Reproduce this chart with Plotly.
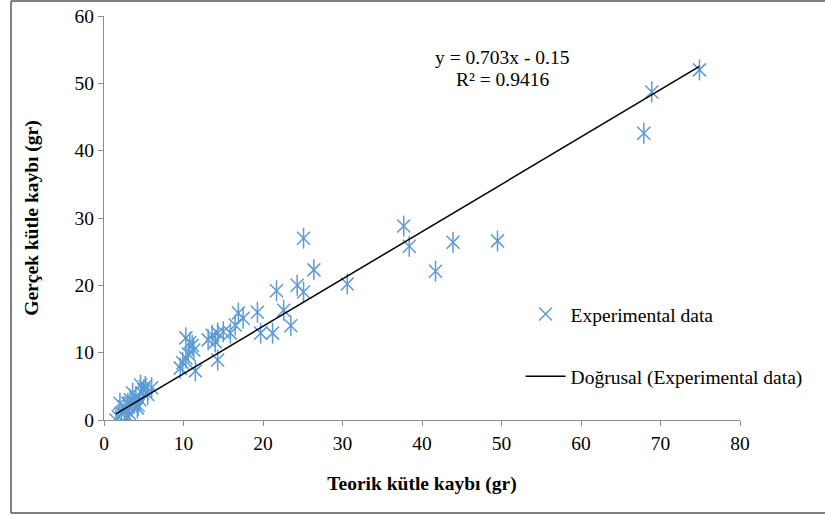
import plotly.graph_objects as go

# Data
theoretical = [1.5, 1.8, 2.2, 2.5, 2.8, 3.0, 3.2, 3.5, 3.3, 3.8, 4.0, 3.6, 4.2, 4.5, 4.8,
               5.0, 5.2, 5.5, 6.0, 4.3, 2.0, 3.0, 4.6,
               9.6, 9.9, 10.3, 10.6, 10.3, 11.1, 10.8, 11.3, 11.5, 13.1, 13.6, 14.0, 14.3,
               14.3, 15.0, 15.9, 16.5, 16.9, 17.5, 19.3, 19.7, 21.2, 21.7, 22.6, 23.5,
               24.3, 25.1, 25.1, 26.4, 30.6, 37.7, 38.4, 41.7, 43.9, 49.5, 67.9, 68.9, 74.9]
actual = [0.0, 0.5, 1.0, 2.0, 1.5, 2.5, 1.0, 2.0, 3.0, 2.5, 3.5, 4.0, 1.8, 3.0, 4.0,
          4.5, 5.0, 3.8, 4.8, 2.2, 2.5, 0.5, 5.2,
          7.7, 8.5, 9.2, 9.8, 12.2, 11.1, 11.5, 10.4, 7.3, 11.9, 12.6, 11.6, 8.9,
          12.9, 13.1, 12.9, 14.1, 15.9, 15.1, 16.0, 12.9, 12.9, 19.2, 16.3, 14.0,
          20.0, 19.0, 27.0, 22.3, 20.2, 28.8, 25.8, 22.1, 26.4, 26.6, 42.6, 48.7, 52.0]

trend_slope = 0.703
trend_intercept = -0.15
equation_text = "y = 0.703x - 0.15"
r2_text = "R² = 0.9416"

x_ticks = [0, 10, 20, 30, 40, 50, 60, 70, 80]
y_ticks = [0, 10, 20, 30, 40, 50, 60]

blue = "#5B9BD5"
serif = "Liberation Serif"
fs = 19.5

fig = go.Figure()

fig.add_trace(go.Scatter(
    x=theoretical, y=actual, mode="markers", name="Experimental data",
    marker=dict(symbol="x-thin-open", size=13, color=blue, line=dict(width=1.5, color=blue)),
    legendgroup="a", showlegend=True,
))
fig.add_trace(go.Scatter(
    x=theoretical, y=actual, mode="markers", name="Experimental data",
    marker=dict(symbol="line-ns-open", size=15, color=blue, line=dict(width=1.5, color=blue)),
    legendgroup="a", showlegend=False,
))

x_min, x_max = min(theoretical), max(theoretical)
fig.add_trace(go.Scatter(
    x=[x_min, x_max],
    y=[trend_slope * x_min + trend_intercept, trend_slope * x_max + trend_intercept],
    mode="lines", name="Doğrusal (Experimental data)",
    line=dict(color="black", width=1.5), legendgroup="b",
))

axis_common = dict(
    showgrid=False, zeroline=False, showline=True, linecolor="#8C8C8C", linewidth=1.2,
    ticks="outside", ticklen=5, tickcolor="#8C8C8C", automargin=False,
    tickfont=dict(family=serif, size=fs, color="black"),
)

fig.update_xaxes(range=[0, 80], tickvals=x_ticks, **axis_common,
                 title=dict(text="<b>Teorik kütle kaybı (gr)</b>",
                            font=dict(family=serif, size=fs, color="black"), standoff=23))
fig.update_yaxes(range=[0, 60], tickvals=y_ticks, **axis_common,
                 title=dict(text="<b>Gerçek kütle kaybı (gr)</b>",
                            font=dict(family=serif, size=fs, color="black"), standoff=30))

fig.add_annotation(x=0.626, y=0.898, xref="paper", yref="paper", text=equation_text,
                   xanchor="center", yanchor="middle",
                   showarrow=False, font=dict(family=serif, size=fs, color="black"))
fig.add_annotation(x=0.626, y=0.842, xref="paper", yref="paper", text=r2_text,
                   xanchor="center", yanchor="middle",
                   showarrow=False, font=dict(family=serif, size=fs, color="black"))

frame = dict(color="#555555", width=1.5)
fig.add_shape(type="line", xref="paper", yref="paper", x0=-0.1462, x1=-0.1462,
              y0=-0.2302, y1=1.037, line=frame, layer="below")
fig.add_shape(type="line", xref="paper", yref="paper", x0=-0.1462, x1=1.2,
              y0=1.037, y1=1.037, line=frame, layer="below")
fig.add_shape(type="line", xref="paper", yref="paper", x0=-0.1462, x1=1.2,
              y0=-0.2302, y1=-0.2302, line=frame, layer="below")

fig.update_layout(
    width=825, height=515,
    margin=dict(l=104, r=85, t=16, b=95, autoexpand=False),
    paper_bgcolor="white", plot_bgcolor="white",
    legend=dict(x=0.655, y=0.31, xanchor="left", yanchor="top",
                font=dict(family=serif, size=fs, color="black"),
                traceorder="grouped", tracegroupgap=34, bgcolor="rgba(0,0,0,0)",
                itemwidth=40),
    showlegend=True,
)

fig.write_html("out.html", config={"displayModeBar": False},
               post_script="document.body.style.margin='0';document.body.style.overflow='hidden';")
